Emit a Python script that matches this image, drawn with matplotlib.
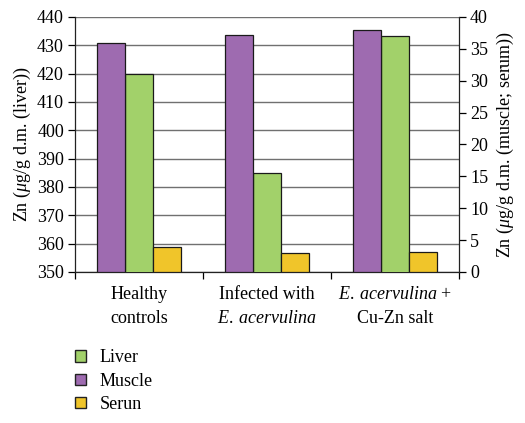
import matplotlib
matplotlib.use('Agg')
import matplotlib.pyplot as plt
import matplotlib.transforms as mtransforms
from matplotlib.patches import Patch
import numpy as np

plt.rcParams['font.family'] = ['Liberation Serif', 'DejaVu Serif']
plt.rcParams['mathtext.fontset'] = 'custom'
plt.rcParams['mathtext.rm'] = 'Liberation Serif'
plt.rcParams['mathtext.it'] = 'Liberation Serif:italic'

# Datos
grupos = ['Healthy\ncontrols',
          'Infected with\n$\\mathit{E.\\:acervulina}$',
          '$\\mathit{E.\\:acervulina}\\ $+\nCu-Zn salt']
muscle = [35.9, 37.2, 37.9]     # eje derecho
liver = [420.0, 384.9, 433.1]   # eje izquierdo
serum = [3.9, 2.9, 3.2]         # eje derecho

c_muscle = '#9e6bb0'
c_liver = '#a2d16a'
c_serum = '#f0c52a'

fig = plt.figure(figsize=(5.25, 4.23), dpi=100)
ax = fig.add_axes([0.143, 0.357, 0.731, 0.603])
ax2 = ax.twinx()

x = np.arange(len(grupos))
w = 0.217

ax.bar(x, liver, width=w, color=c_liver, edgecolor='#1a1a1a', linewidth=0.9, zorder=3)
ax2.bar(x - w, muscle, width=w, color=c_muscle, edgecolor='#1a1a1a', linewidth=0.9, zorder=3)
ax2.bar(x + w, serum, width=w, color=c_serum, edgecolor='#1a1a1a', linewidth=0.9, zorder=3)

ax.set_ylim(350, 440)
ax.set_yticks(np.arange(350, 441, 10))
ax2.set_ylim(0, 40)
ax2.set_yticks(np.arange(0, 41, 5))
ax.set_xlim(-0.5, 2.5)

ax.set_axisbelow(True)
ax.yaxis.grid(True, color='#707070', linewidth=1.0)

for a in (ax, ax2):
    a.spines['top'].set_visible(False)
    for s in ('left', 'right', 'bottom'):
        a.spines[s].set_linewidth(0.9)
        a.spines[s].set_color('#222222')
ax.spines['right'].set_visible(False)
ax2.spines['left'].set_visible(False)
ax2.spines['bottom'].set_visible(False)

fs = 13
ax.tick_params(axis='y', labelsize=fs, length=5, width=0.9, pad=3)
ax2.tick_params(axis='y', labelsize=fs, length=5, width=0.9, pad=3)

# ticks del eje x en los bordes de los grupos
ax.set_xticks([-0.5, 0.5, 1.5, 2.5])
ax.set_xticklabels([])
ax.tick_params(axis='x', length=5, width=0.9, direction='out')

trans = mtransforms.blended_transform_factory(ax.transData, ax.transAxes)
for xi, g in zip(x, grupos):
    ax.text(xi, -0.055, g, transform=trans, ha='center', va='top',
            fontsize=fs, linespacing=1.55)

ax.set_ylabel('Zn ($\\mu$g/g d.m. (liver))', fontsize=fs, labelpad=3)
ax2.set_ylabel('Zn ($\\mu$g/g d.m. (muscle; serum))', fontsize=fs, labelpad=5)

handles = [Patch(facecolor=c_liver, edgecolor='#222222', label='Liver'),
           Patch(facecolor=c_muscle, edgecolor='#222222', label='Muscle'),
           Patch(facecolor=c_serum, edgecolor='#222222', label='Serun')]
fig.legend(handles=handles, loc='upper left', bbox_to_anchor=(0.13, 0.191),
           frameon=False, fontsize=fs, handlelength=0.6, handleheight=0.6,
           handletextpad=0.75, labelspacing=0.35, borderaxespad=0)

fig.savefig('out.png', dpi=100)
